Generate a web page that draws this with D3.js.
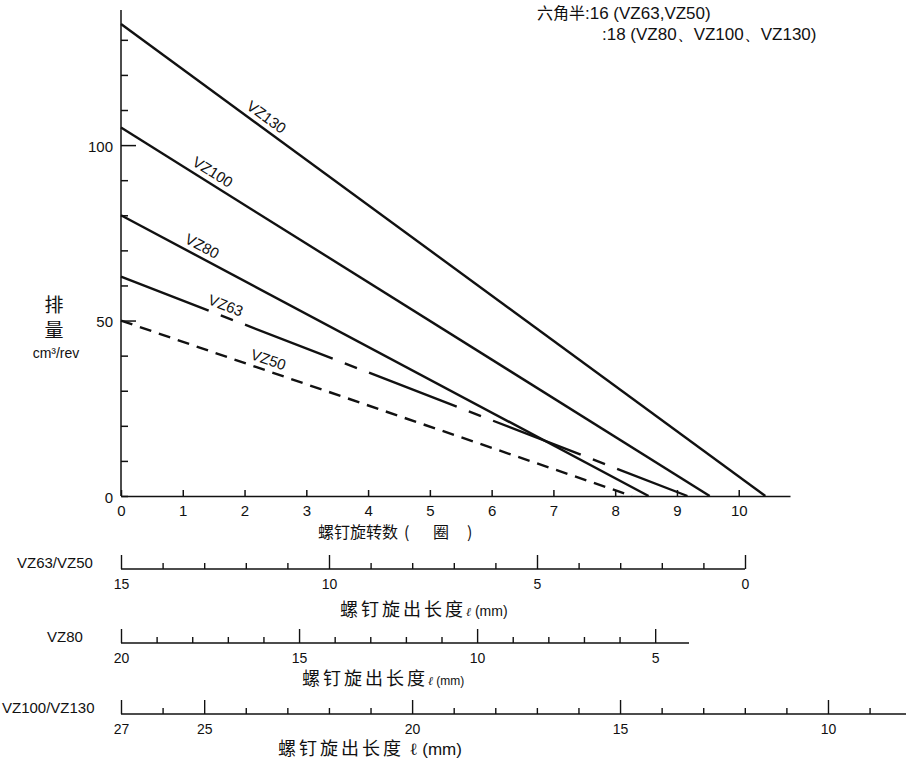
<!DOCTYPE html>
<html><head><meta charset="utf-8">
<script src="https://cdn.jsdelivr.net/npm/d3@7"></script>
<style>
body{margin:0;background:#fff;}
svg{display:block;}
text{fill:#111;}
</style></head>
<body>
<svg id="c" width="906" height="765"></svg>
<script>
// ---------- data ----------
const seriesNames = ["VZ130", "VZ100", "VZ80", "VZ63", "VZ50"];
const startDisplacement = [134.5, 105, 80, 62.5, 50];   // cm3/rev at 0 turns
const endTurns = [10.43, 9.53, 8.54, 9.17, 8.27];        // turns where displacement = 0
const seriesDash = ["none", "none", "none", "94,13,13,13", "12,8"];
const labelTurns = [2.25, 1.39, 1.23, 1.63, 2.33];

const yTicks = [0, 10, 20, 30, 40, 50, 60, 70, 80, 90, 100, 110, 120, 130];
const yLabels = [0, 50, 100];
const xTicks = [0, 1, 2, 3, 4, 5, 6, 7, 8, 9, 10];

const axis1Ticks = d3.range(0, 16);            // VZ63/VZ50 mm
const axis1Labels = [15, 10, 5, 0];
const axis2Ticks = d3.range(5, 21);            // VZ80 mm
const axis2Labels = [20, 15, 10, 5];
const axis3Ticks = d3.range(9, 28);            // VZ100/VZ130 mm
const axis3Labels = [27, 25, 20, 15, 10];

// ---------- layout ----------
const svg = d3.select("#c");
const LAT = "'Liberation Sans', Arial, sans-serif";
const CJK = "'Noto Sans CJK SC', sans-serif";

const x = d3.scaleLinear().domain([0, 10.83]).range([121, 790]);
const y = d3.scaleLinear().domain([0, 138.5]).range([496, 10]);

// y axis
const gy = svg.append("g").attr("transform", `translate(${x(0)},0)`)
  .call(d3.axisLeft(y).tickValues(yTicks).tickSizeInner(-7).tickSizeOuter(0).tickPadding(8)
    .tickFormat(d => yLabels.includes(d) ? d : ""));
gy.select(".domain").attr("d", `M0,${y(0)}V${y(138.5)}`);
gy.selectAll(".tick line").attr("x2", d => (d === 50 || d === 100) ? 15 : 7);
gy.selectAll("path,line").attr("stroke", "#111").attr("stroke-width", 1.5);
gy.selectAll("text").attr("font-family", LAT).attr("font-size", 15).attr("fill", "#111").attr("dy", "0.4em");

// x axis
const gx = svg.append("g").attr("transform", `translate(0,${y(0)})`)
  .call(d3.axisBottom(x).tickValues(xTicks).tickSizeInner(-6).tickSizeOuter(0).tickPadding(9));
gx.selectAll("path,line").attr("stroke", "#111").attr("stroke-width", 1.5);
gx.selectAll("text").attr("font-family", LAT).attr("font-size", 15).attr("fill", "#111");

// series lines
const line = d3.line().x(d => x(d[0])).y(d => y(d[1]));
seriesNames.forEach((name, i) => {
  const pts = [[0, startDisplacement[i]], [endTurns[i], 0]];
  svg.append("path").attr("d", line(pts)).attr("fill", "none")
    .attr("stroke", "#111").attr("stroke-width", 2.4)
    .attr("stroke-dasharray", seriesDash[i]);
  const lx = labelTurns[i];
  const ly = startDisplacement[i] * (1 - lx / endTurns[i]);
  const px = x(lx), py = y(ly);
  const dx = x(endTurns[i]) - x(0), dy = y(0) - y(startDisplacement[i]);
  const ang = Math.atan2(dy, dx);
  const off = 11;
  const tx = px + off * Math.sin(ang), ty = py - off * Math.cos(ang);
  svg.append("text").attr("x", 0).attr("y", 0)
    .attr("transform", `translate(${tx},${ty}) rotate(${ang * 180 / Math.PI})`)
    .attr("text-anchor", "middle").attr("dy", "0.35em")
    .attr("font-family", LAT).attr("font-size", 15).text(name);
});

// y title
svg.append("text").attr("x", 54).attr("y", 312).attr("text-anchor", "middle")
  .attr("font-family", CJK).attr("font-size", 19).text("排");
svg.append("text").attr("x", 54).attr("y", 337).attr("text-anchor", "middle")
  .attr("font-family", CJK).attr("font-size", 19).text("量");
svg.append("text").attr("x", 56).attr("y", 358).attr("text-anchor", "middle")
  .attr("font-family", LAT).attr("font-size", 14).text("cm³/rev");

// x title
const xt = svg.append("text").attr("y", 538).attr("font-family", CJK).attr("font-size", 16);
xt.append("tspan").attr("x", 318).text("螺钉旋转数");
xt.append("tspan").attr("x", 404).text("(");
xt.append("tspan").attr("x", 433).text("圈");
xt.append("tspan").attr("x", 467).text(")");

// secondary length scales
function lengthAxis(domain, range, yPos, ticks, labels, major, name, nameX, titleX, titleY, big, mmSize) {
  const s = d3.scaleLinear().domain(domain).range(range);
  const g = svg.append("g").attr("transform", `translate(0,${yPos})`)
    .call(d3.axisBottom(s).tickValues(ticks).tickSizeInner(-6).tickSizeOuter(0).tickPadding(10)
      .tickFormat(d => labels.includes(d) ? d : ""));
  g.select(".domain").attr("d", `M${range[0]},0H${range[1]}`);
  g.selectAll(".tick line").attr("y2", d => major.includes(d) ? -14 : -6);
  g.selectAll("path,line").attr("stroke", "#111").attr("stroke-width", 1.4);
  g.selectAll("text").attr("font-family", LAT).attr("font-size", 14).attr("fill", "#111");
  svg.append("text").attr("x", nameX).attr("y", yPos - 1)
    .attr("font-family", LAT).attr("font-size", 15).text(name);
  const t = svg.append("text").attr("x", titleX).attr("y", titleY);
  t.append("tspan").attr("font-family", CJK).attr("font-size", 18).attr("letter-spacing", 3)
    .text("螺钉旋出长度");
  t.append("tspan").attr("font-family", "'DejaVu Serif', serif").attr("font-style", big ? "normal" : "italic")
    .attr("font-size", big ? 17 : 12).text(big ? " ℓ" : "ℓ");
  t.append("tspan").attr("font-family", LAT).attr("font-size", mmSize).text(" (mm)");
}
lengthAxis([15, 0], [121, 745], 569, axis1Ticks, axis1Labels, [15, 10, 5, 0], "VZ63/VZ50", 17,
  340, 616, false, 14);
lengthAxis([20, 4.05], [121, 689], 643, axis2Ticks, axis2Labels, [20, 15, 10, 5], "VZ80", 47,
  302, 685, false, 12);
lengthAxis([27, 8.1], [121, 907], 714, axis3Ticks, axis3Labels, axis3Labels, "VZ100/VZ130", 2,
  278, 755, true, 17);

// top-right note
const n1 = svg.append("text").attr("x", 537).attr("y", 19).attr("font-size", 16);
n1.append("tspan").attr("font-family", CJK).text("六角半");
n1.append("tspan").attr("font-family", LAT).attr("font-size", 17).text(":16 (VZ63,VZ50)");
svg.append("text").attr("x", 602).attr("y", 40).attr("font-size", 17)
  .attr("font-family", LAT).text(":18 (VZ80、VZ100、VZ130)");
</script>
</body></html>
